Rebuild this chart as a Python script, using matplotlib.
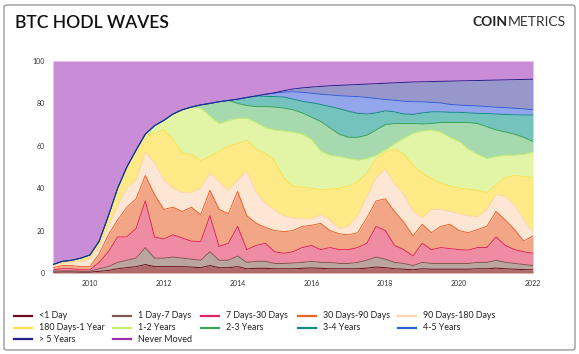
import numpy as np
import matplotlib
matplotlib.use("Agg")
import matplotlib.pyplot as plt
from matplotlib.patches import FancyBboxPatch
from matplotlib.lines import Line2D

plt.rcParams['font.family'] = ['Lato', 'DejaVu Sans']

# sample dates (fractional years)
dates = [2009.00, 2009.25, 2009.50, 2009.75, 2010.00, 2010.25, 2010.50, 2010.75,
         2011.00, 2011.25, 2011.50, 2011.75, 2012.00, 2012.25, 2012.50, 2012.75,
         2013.00, 2013.25, 2013.50, 2013.75, 2014.00, 2014.25, 2014.50, 2014.75,
         2015.00, 2015.25, 2015.50, 2015.75, 2016.00, 2016.25, 2016.50, 2016.75,
         2017.00, 2017.25, 2017.50, 2017.75, 2018.00, 2018.25, 2018.50, 2018.75,
         2019.00, 2019.25, 2019.50, 2019.75, 2020.00, 2020.25, 2020.50, 2020.75,
         2021.00, 2021.25, 2021.50, 2021.75, 2022.00]

# cumulative top (in %) of each band, bottom band first
top_lt1d = [0.4, 0.5, 0.5, 0.4, 0.4, 0.8, 1.2, 2, 2.5, 3, 4, 3, 3, 3, 3,
            2.8, 2.5, 3.5, 2.5, 2.5, 3, 2, 2.2, 2.2, 2, 2, 2, 2.2, 2.4, 2.2,
            2, 2, 2, 2, 2.3, 2.8, 2.5, 2, 1.8, 1.5, 2, 1.8, 1.8, 1.8, 1.8,
            1.8, 2, 2, 2.3, 2, 1.8, 1.6, 1.5]
top_1d7d = [0.8, 1, 1, 0.8, 0.8, 2, 3, 5, 6, 7, 12, 7, 7, 7.5, 7,
            6.5, 6, 10, 6, 6, 8, 5, 5.5, 5.5, 4.5, 4.5, 4.7, 5, 5.5, 5,
            5, 4.5, 4.5, 5, 6, 7.5, 6.5, 5, 4.5, 3.5, 5, 4.5, 4.5, 4.5, 4.5,
            4.5, 5, 5, 6, 5, 4.5, 4, 3.5]
top_7d30d = [1.5, 2, 2, 1.5, 1.5, 5, 10, 17, 17, 21, 34, 17, 16, 18, 16.5,
             15, 14.8, 27, 12.5, 14, 22, 11, 13, 14, 10, 9.3, 10, 12, 13, 11,
             12, 11, 11, 12, 14, 22, 20, 13, 11, 8, 14, 11, 12, 11.5, 11,
             10.8, 12, 12, 17, 13, 11, 10, 9.3]
top_30d90d = [2.5, 3.5, 3.5, 3, 3, 9, 18, 25, 31, 35, 46, 37, 30, 31, 29,
              31, 27.5, 39, 30, 28, 38.5, 27, 23.5, 21.5, 20, 19.5, 20, 22, 22.5, 23.4,
              20, 18.5, 18, 19, 26, 34, 35, 29, 24, 17.5, 23, 19, 22, 23, 20,
              19, 20.5, 22, 29, 25, 20.5, 15, 17.5]
top_90d180d = [3.5, 4.5, 5, 5.5, 6.5, 12, 22, 32, 40, 44, 57, 52, 44, 40, 38,
               38, 40, 47, 43, 39, 44, 48, 38, 33, 29.5, 27, 26, 25.5, 25.5, 27.5,
               25, 21, 22, 27, 36, 45, 49, 42, 37, 29, 26, 30, 30, 29, 28,
               27, 26.5, 30, 37, 36, 32, 25, 19]
top_180d1y = [4, 5.5, 6, 7, 8.5, 15, 27, 40, 50, 58, 65, 66, 67.5, 63, 56.5,
              56, 53, 55, 57.5, 60, 61, 62.7, 58.5, 56.5, 53, 45, 41, 40.5, 40, 39.2,
              39.5, 40, 41, 43, 47, 54, 57, 58.5, 56, 51, 47, 44.5, 42.5, 41, 40,
              39.5, 39, 38, 41.5, 45, 46, 45.5, 45]
top_1y2y = [4, 5.5, 6, 7, 8.5, 15, 27, 40, 50, 58, 65.5, 69.5, 72, 75, 77,
            78.3, 77.8, 74, 70.5, 72, 73, 73, 71, 68.5, 67.5, 67, 66.5, 65.5, 63, 57.5,
            55.5, 55, 54, 53.3, 54, 55.5, 58, 61, 63.5, 66, 67, 67.5, 66.5, 64, 62,
            58.5, 56, 54, 55, 55.6, 55.6, 56, 57]
top_2y3y = [4, 5.5, 6, 7, 8.5, 15, 27, 40, 50, 58, 65.5, 69.5, 72, 75, 77,
            78.3, 79.3, 80, 80.8, 81.4, 80, 79, 78.5, 78.5, 78.3, 77.8, 77, 75.5, 73.5, 71.5,
            68.5, 65.5, 64, 64, 65, 67.5, 70, 70.5, 70.5, 70.5, 70.3, 70.5, 71, 71, 71,
            71, 70.5, 69, 67.5, 66.5, 65.5, 64, 62]
top_3y4y = [4, 5.5, 6, 7, 8.5, 15, 27, 40, 50, 58, 65.5, 69.5, 72, 75, 77,
            78.3, 79.3, 80, 80.8, 81.4, 82, 82.8, 83.5, 83.3, 83.2, 83.0, 82.0, 81.0, 80.3, 79.5,
            78.5, 77.5, 76.3, 75.3, 75.0, 75.5, 76.5, 76.0, 75.0, 74.8, 75.5, 76, 76, 75.8, 75.8,
            75.5, 75.3, 75.2, 75.0, 74.8, 74.6, 74.5, 74.5]
top_4y5y = [4, 5.5, 6, 7, 8.5, 15, 27, 40, 50, 58, 65.5, 69.5, 72, 75, 77,
            78.3, 79.3, 80, 80.8, 81.4, 82, 82.8, 83.5, 84.3, 84.8, 85.3, 85.5, 85.2, 84.8, 84.3,
            84.0, 83.6, 83.4, 83.2, 82.8, 82.3, 81.8, 81.5, 81.0, 80.8, 80.7, 80.5, 80.2, 79.5, 79.2,
            79.0, 78.8, 78.5, 78.2, 78.0, 77.7, 77.4, 77.0]
top_gt5y = [4, 5.5, 6, 7, 8.5, 15, 27, 40, 50, 58, 65.5, 69.5, 72, 75, 77,
            78.3, 79.3, 80, 80.8, 81.4, 82, 82.8, 83.5, 84.3, 85, 86, 86.8, 87.3, 87.7, 88,
            88.3, 88.5, 88.7, 88.9, 89.1, 89.3, 89.5, 89.7, 89.9, 90.1, 90.2, 90.3, 90.4, 90.5, 90.6,
            90.7, 90.8, 90.9, 91.0, 91.1, 91.2, 91.3, 91.4]
top_never = [100] * len(dates)

labels = ["<1 Day", "1 Day-7 Days", "7 Days-30 Days", "30 Days-90 Days",
          "90 Days-180 Days", "180 Days-1 Year", "1-2 Years", "2-3 Years",
          "3-4 Years", "4-5 Years", "> 5 Years", "Never Moved"]
tops = [top_lt1d, top_1d7d, top_7d30d, top_30d90d, top_90d180d, top_180d1y,
        top_1y2y, top_2y3y, top_3y4y, top_4y5y, top_gt5y, top_never]

line_cols = ["#6b0f1a", "#7d5a50", "#e0245e", "#e8642a", "#fdd5b1", "#fde047",
             "#c5f06a", "#3aa655", "#0f8f80", "#3060d8", "#23238a", "#9b30b0"]
fill_cols = ["#b06a6a", "#bba69f", "#ef8ca3", "#f2a686", "#fde6d4", "#fde985",
             "#e2f5a6", "#a6d9ae", "#74c3bc", "#93a6ec", "#9797cc", "#c98cd7"]

W, H = 579, 354
fig = plt.figure(figsize=(W / 100, H / 100), dpi=100)
ax = fig.add_axes([53 / W, 1 - 273 / H, 480 / W, 212 / H])

x = np.array(dates)
lower = np.zeros(len(dates))
for i in range(len(labels)):
    upper = np.maximum(np.array(tops[i], dtype=float), lower)
    ax.fill_between(x, lower, upper, color=fill_cols[i], lw=0)
    if i < len(labels) - 1:
        ax.plot(x, upper, color=line_cols[i], lw=0.7)
    lower = upper

ax.set_xlim(2009.0, 2022.0)
ax.set_ylim(0, 100)
ax.set_xticks([2010, 2012, 2014, 2016, 2018, 2020, 2022])
ax.set_yticks([0, 20, 40, 60, 80, 100])
ax.tick_params(length=0, labelsize=5, colors="#333333")
ax.tick_params(axis="y", pad=6)
ax.tick_params(axis="x", pad=5)
for s in ax.spines.values():
    s.set_visible(False)

# legend laid out by hand, five entries per row
col_x = [14, 113, 201, 298, 398]
row_y = [316, 327.5, 339]
for k, lab in enumerate(labels):
    r, c = divmod(k, 5)
    x0 = col_x[c]
    y0 = 1 - row_y[r] / H
    fig.add_artist(Line2D([x0 / W, (x0 + 18) / W], [y0, y0],
                          color=line_cols[k], lw=1.6,
                          transform=fig.transFigure))
    fig.text((x0 + 25) / W, y0, lab, fontsize=6.4, color="#222222",
             va="center", ha="left")

# title and logo
fig.text(15 / W, 1 - 23 / H, "BTC HODL WAVES", fontsize=12.6,
         fontweight="semibold", color="#111111", va="center", ha="left")
fig.text(508 / W, 1 - 22 / H, "COIN", fontsize=10, fontweight="bold",
         color="#222222", va="center", ha="right")
fig.text(508 / W, 1 - 22 / H, "METRICS", fontsize=10, fontweight="normal",
         color="#333333", va="center", ha="left")

# rounded frame
frame = FancyBboxPatch((4 / W, 4 / H), 571 / W, 345 / H,
                       boxstyle="round,pad=0,rounding_size=0.006",
                       transform=fig.transFigure, fill=False,
                       edgecolor="#9a9a9a", lw=1.0)
fig.patches.append(frame)

fig.savefig("out.png", dpi=100)
